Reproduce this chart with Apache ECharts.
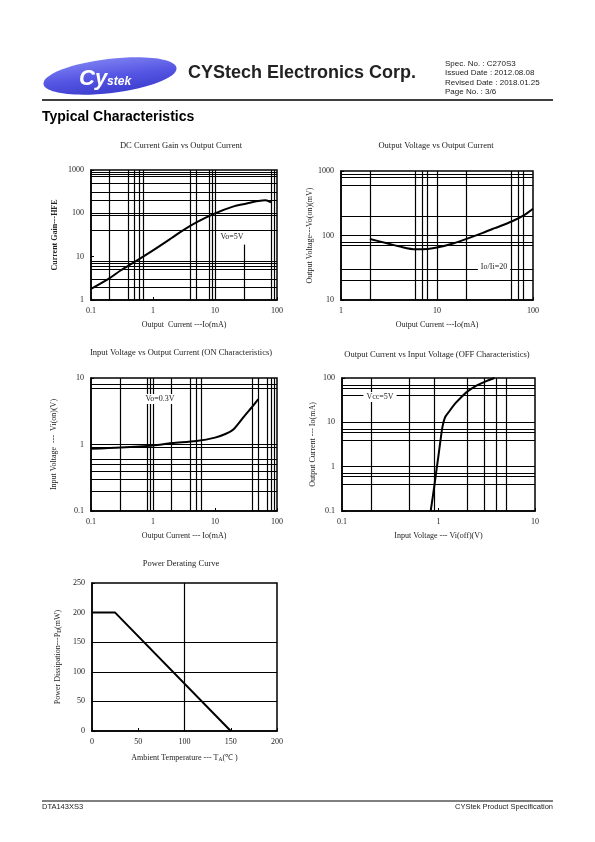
<!DOCTYPE html>
<html><head><meta charset="utf-8">
<script src="https://cdn.jsdelivr.net/npm/echarts@6/dist/echarts.min.js"></script>
<style>html,body{margin:0;padding:0;background:#fff}#c{width:595px;height:842px}</style>
</head><body><div id="c"></div>
<script>
// ---------- DATA ----------
// Chart 1: DC Current Gain vs Output Current
const c1Io  = [0.1,0.2,0.3,0.5,1,2,3,5,10,20,30,50,65,80];
const c1Hfe = [1.8,3.2,4.8,7.5,14,27,40,62,100,145,165,192,200,180];
const c1VLines = [0.2,0.4,0.5,0.6,0.7,4,5,8,9,10,80,90];
const c1HLines = [2,3,5,6,7,8,40,90,100,200,300,500,700,800,900];
const c1PartialV = [30, 1, 19];
// Chart 2: Output Voltage vs Output Current
const c2Io  = [2,3,4,6,8,10,15,20,30,40,60,80,100];
const c2Vo  = [88,76,68,61,62,65,76,88,110,130,165,205,260];
const c2VLines = [2,6,7,8,10,20,60,70,80];
const c2HLines = [20,30,70,80,100,200,600,800,900];
// Chart 3: Input Voltage vs Output Current (ON)
const c3Io  = [0.1,0.3,1,2,5,10,15,20,30,40,50];
const c3Vi  = [0.86,0.9,0.97,1.05,1.13,1.27,1.45,1.7,2.7,3.7,4.8];
const c3VLines = [0.3,0.8,0.9,1,2,4,5,6,40,50,70,80,90];
const c3HLines = [0.2,0.3,0.4,0.5,0.6,0.9,1,7,8];
// Chart 4: Output Current vs Input Voltage (OFF)
const c4Vi  = [0.83,0.87,0.91,0.95,1.0,1.05,1.1,1.17,1.3,1.5,1.7,2,2.5,3,3.8];
const c4Io  = [0.1,0.2,0.4,0.8,1.8,4,8,13,18,27,36,50,68,82,100];
const c4VLines = [0.2,0.5,0.9,2,3,4,5];
const c4HLines = [0.4,0.6,0.7,1,4,6,7,10,40,60,70];
// Chart 5: Power Derating Curve
const c5Ta = [0,25,150];
const c5Pd = [200,200,0];
const c5VLines = [100];
const c5HLines = [50,100,150];

// ---------- STYLE ----------
const SERIF = '"Liberation Serif","Times New Roman",serif';
const SANS = '"Liberation Sans",Arial,sans-serif';
const TXT = '#222';

function gridLines(vs, hs, extra) {
  const d = vs.map(v => ({xAxis: v})).concat(hs.map(h => ({yAxis: h})));
  if (extra) d.push([{coord: [extra[0], extra[1]]}, {coord: [extra[0], extra[2]]}]);
  return {silent: true, symbol: 'none', label: {show: false}, animation: false,
    lineStyle: {color: '#000', width: 1.2, type: 'solid'}, emphasis: {disabled: true}, data: d};
}
function fmt(v) { return String(+(+v).toPrecision(6)); }
function axisBase(gi, type, min, max, name, gap, bold) {
  const a = {
    gridIndex: gi, type: type, min: min, max: max,
    axisLine: {show: true, lineStyle: {color: '#000', width: 1.5}},
    axisTick: {show: true, inside: true, length: 3, lineStyle: {color: '#000', width: 1}},
    splitLine: {show: false}, minorTick: {show: false}, minorSplitLine: {show: false},
    axisLabel: {color: TXT, fontFamily: SERIF, fontSize: 8, margin: 7, formatter: fmt},
    name: name, nameLocation: 'middle', nameGap: gap,
    nameTextStyle: {color: TXT, fontFamily: SERIF, fontSize: 8, fontWeight: bold ? 'bold' : 'normal',
      rich: {s: {fontSize: 5.5, fontFamily: SERIF, color: TXT, padding: [4, 0, 0, 0]}}}
  };
  if (type === 'log') a.logBase = 10;
  return a;
}
function curve(xi, xs, ys, ml, smooth) {
  return {type: 'line', xAxisIndex: xi, yAxisIndex: xi, data: xs.map((x, i) => [x, ys[i]]),
    showSymbol: false, symbol: 'none', smooth: smooth, silent: true, animation: false,
    lineStyle: {color: '#000', width: 2}, markLine: ml, z: 3};
}
const grids = [
  {left: 91, top: 170, width: 186, height: 130},
  {left: 341, top: 171, width: 192, height: 129},
  {left: 91, top: 378, width: 186, height: 133},
  {left: 342, top: 378, width: 193, height: 133},
  {left: 92, top: 583, width: 185, height: 148}
].map(g => Object.assign(g, {show: true, borderColor: '#000', borderWidth: 1.5, backgroundColor: 'transparent', containLabel: false, outerBoundsMode: 'none'}));

function t(x, y, text, font, align, extra) {
  return {type: 'text', z: 100, style: Object.assign({x: x, y: y, text: text, font: font, fill: TXT,
    align: align || 'left', verticalAlign: 'middle'}, extra || {})};
}
function note(x, y, text) {
  return t(x, y, text, '8px ' + SERIF, 'center', {backgroundColor: '#fff', padding: [1, 3, 1, 3]});
}

const option = {
  animation: false,
  grid: grids,
  xAxis: [
    axisBase(0, 'log', 0.1, 100, 'Output  Current ---Io(mA)', 21),
    axisBase(1, 'log', 1, 100, 'Output Current ---Io(mA)', 21),
    axisBase(2, 'log', 0.1, 100, 'Output Current --- Io(mA)', 21),
    axisBase(3, 'log', 0.1, 10, 'Input Voltage --- Vi(off)(V)', 21),
    Object.assign(axisBase(4, 'value', 0, 200, 'Ambient Temperature --- T{s|A}(℃ )', 22), {interval: 50})
  ],
  yAxis: [
    axisBase(0, 'log', 1, 1000, 'Current Gain---HFE', 32, true),
    axisBase(1, 'log', 10, 1000, 'Output Voltage---Vo(on)(mV)', 27),
    axisBase(2, 'log', 0.1, 10, 'Input Voltage  ---  Vi(on)(V)', 33),
    axisBase(3, 'log', 0.1, 100, 'Output Current --- Io(mA)', 25),
    Object.assign(axisBase(4, 'value', 0, 250, 'Power Dissipation---P{s|D}(mW)', 29), {interval: 50})
  ],
  series: [
    curve(0, c1Io, c1Hfe, gridLines(c1VLines, c1HLines, c1PartialV), 0.3),
    curve(1, c2Io, c2Vo, gridLines(c2VLines, c2HLines), 0.3),
    curve(2, c3Io, c3Vi, gridLines(c3VLines, c3HLines), 0.3),
    curve(3, c4Vi, c4Io, gridLines(c4VLines, c4HLines), 0.3),
    curve(4, c5Ta, c5Pd, gridLines(c5VLines, c5HLines), false)
  ],
  graphic: [
    {type: 'ellipse', z: 90, x: 110, y: 76, rotation: 0.12, shape: {cx: 0, cy: 0, rx: 67, ry: 17},
      style: {fill: new echarts.graphic.LinearGradient(0, 0, 0, 1, [{offset: 0, color: '#7a7cf0'}, {offset: 0.5, color: '#5556e3'}, {offset: 1, color: '#3f3fd0'}])}},
    {type: 'text', z: 100, style: {x: 79, y: 79, text: '{a|Cy}{b|stek}', verticalAlign: 'middle', align: 'left',
      rich: {a: {font: 'bold italic 22px ' + SANS, fill: '#fff', color: '#fff'}, b: {font: 'bold italic 12px ' + SANS, fill: '#fff', color: '#fff', padding: [6, 0, 0, 0]}}}},
    t(188, 73, 'CYStech Electronics Corp.', 'bold 18px ' + SANS),
    t(445, 64, 'Spec. No. : C270S3', '8px ' + SANS),
    t(445, 73, 'Issued Date : 2012.08.08', '8px ' + SANS),
    t(445, 83, 'Revised Date : 2018.01.25', '8px ' + SANS),
    t(445, 92, 'Page No. : 3/6', '8px ' + SANS),
    {type: 'line', z: 100, shape: {x1: 42, y1: 100, x2: 553, y2: 100}, style: {stroke: '#000', lineWidth: 1.5}},
    t(42, 117, 'Typical Characteristics', 'bold 14px ' + SANS, 'left', {fill: '#000'}),
    t(181, 146, 'DC Current Gain vs Output Current', '8.5px ' + SERIF, 'center'),
    t(436, 146, 'Output Voltage vs Output Current', '8.5px ' + SERIF, 'center'),
    t(181, 353, 'Input Voltage vs Output Current (ON Characteristics)', '8.5px ' + SERIF, 'center'),
    t(437, 355, 'Output Current vs Input Voltage (OFF Characteristics)', '8.5px ' + SERIF, 'center'),
    t(181, 564, 'Power Derating Curve', '8.5px ' + SERIF, 'center'),
    note(232, 237, 'Vo=5V'),
    note(494, 267, 'Io/Ii=20'),
    note(160, 399, 'Vo=0.3V'),
    note(380, 397, 'Vcc=5V'),
    {type: 'line', z: 100, shape: {x1: 42, y1: 801, x2: 553, y2: 801}, style: {stroke: '#000', lineWidth: 1}},
    t(42, 807, 'DTA143XS3', '7.5px ' + SANS),
    t(553, 807, 'CYStek Product Specification', '7.5px ' + SANS, 'right')
  ]
};
const chart = echarts.init(document.getElementById('c'), null, {renderer: 'canvas'});
chart.setOption(option);
</script></body></html>
